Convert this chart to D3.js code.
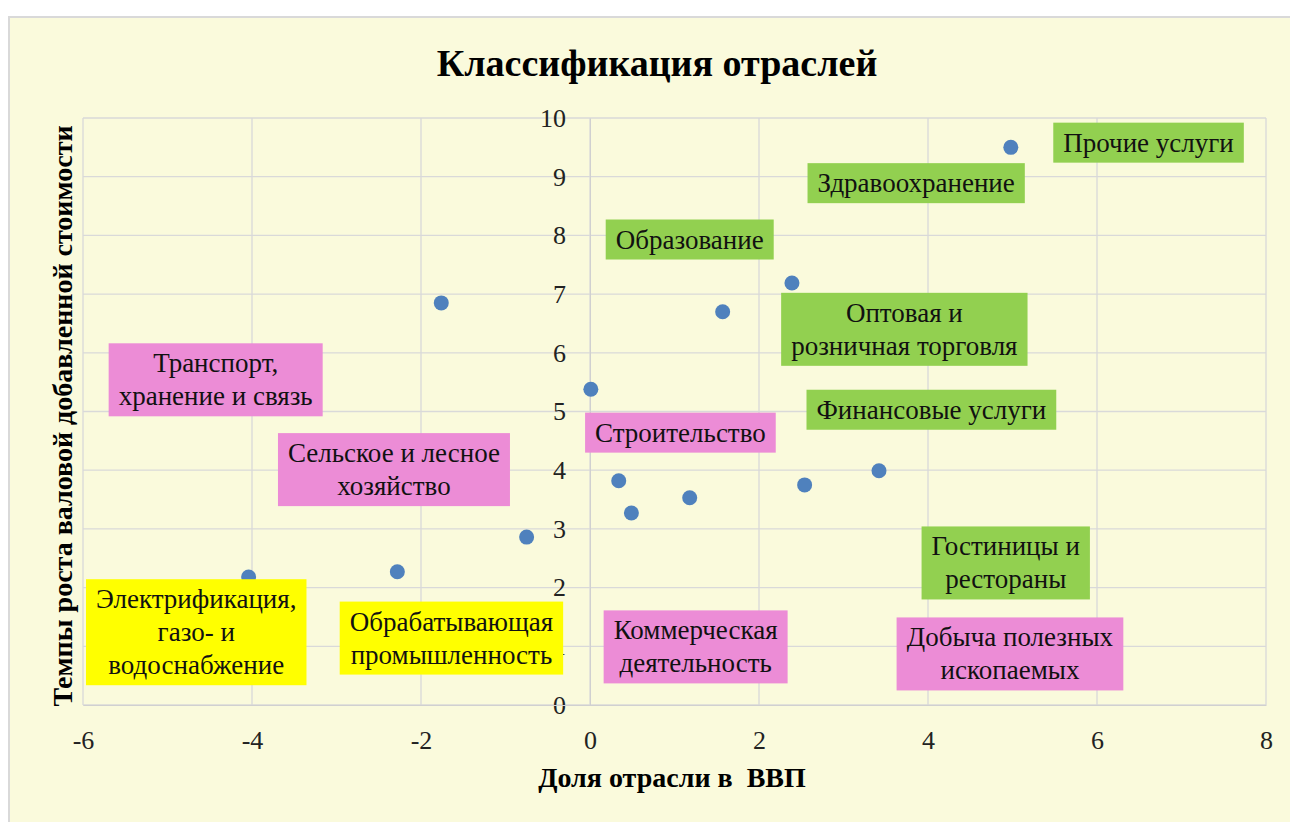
<!DOCTYPE html>
<html>
<head>
<meta charset="utf-8">
<script src="https://cdn.jsdelivr.net/npm/d3@7"></script>
<style>
  body { margin: 0; background: #fff; }
  text { font-family: "Liberation Serif", "Times New Roman", serif; }
</style>
</head>
<body>
<svg id="chart" width="1290" height="822"></svg>
<script>
// industries (order matches points)
var industries = ["Прочие услуги", "Здравоохранение", "Образование", "Оптовая и розничная торговля",
  "Финансовые услуги", "Гостиницы и рестораны", "Добыча полезных ископаемых", "Коммерческая деятельность",
  "Строительство", "Транспорт, хранение и связь", "Сельское и лесное хозяйство",
  "Электрификация, газо- и водоснабжение", "Обрабатывающая промышленность"];
// share in GDP (x) and growth rate (y)
var gdpShare = [4.98, 2.39, 1.57, 3.42, 2.54, 1.18, 0.49, 0.34, 0.01, -1.76, -0.75, -4.04, -2.28];
var growth = [9.50, 7.19, 6.70, 3.99, 3.75, 3.53, 3.27, 3.82, 5.38, 6.85, 2.86, 2.18, 2.27];

// label text lines and groups
var labelLines = [["Прочие услуги"], ["Здравоохранение"], ["Образование"], ["Оптовая и", "розничная торговля"],
  ["Финансовые услуги"], ["Гостиницы и", "рестораны"], ["Добыча полезных", "ископаемых"], ["Коммерческая", "деятельность"],
  ["Строительство"], ["Транспорт,", "хранение и связь"], ["Сельское и лесное", "хозяйство"],
  ["Электрификация,", "газо- и", "водоснабжение"], ["Обрабатывающая", "промышленность"]];
var labelGroup = ["g", "g", "g", "g", "g", "g", "p", "p", "p", "p", "p", "y", "y"];
// label centers in data units (labels were dragged away from points)
var labelX = [6.61, 3.86, 1.18, 3.72, 4.04, 4.92, 4.97, 1.25, 1.07, -4.43, -2.32, -4.66, -1.64];
var labelY = [9.58, 8.89, 7.93, 6.40, 5.03, 2.42, 0.87, 0.99, 4.64, 5.54, 4.01, 1.24, 1.14];

var xTicks = [-6, -4, -2, 0, 2, 4, 6, 8];
var yTicks = [0, 1, 2, 3, 4, 5, 6, 7, 8, 9, 10];

var groupColor = { g: "#92d050", p: "#ec8cd6", y: "#ffff00" };

var svg = d3.select("#chart");

// chart frame
svg.append("rect")
  .attr("x", 9).attr("y", 17).attr("width", 1300).attr("height", 820)
  .attr("fill", "#fafadc").attr("stroke", "#d9d9d9").attr("stroke-width", 2);

var x = d3.scaleLinear().domain([-6, 8]).range([83, 1266]);
var y = d3.scaleLinear().domain([0, 10]).range([705, 118]);

// gridlines
svg.append("g").selectAll("line.v").data(xTicks).enter().append("line")
  .attr("x1", function(d){ return x(d); }).attr("x2", function(d){ return x(d); })
  .attr("y1", y(0)).attr("y2", y(10))
  .attr("stroke", "#d9d9d9").attr("stroke-width", 1.3);
svg.append("g").selectAll("line.h").data(yTicks).enter().append("line")
  .attr("x1", x(-6)).attr("x2", x(8))
  .attr("y1", function(d){ return y(d); }).attr("y2", function(d){ return y(d); })
  .attr("stroke", "#d9d9d9").attr("stroke-width", 1.3);

var fmt = function(d){ return String(d); };

// y axis crosses at x = 0
var yAxis = svg.append("g")
  .attr("transform", "translate(" + x(0) + ",0)")
  .call(d3.axisLeft(y).tickValues(yTicks).tickFormat(fmt).tickSize(0).tickPadding(24));
yAxis.select(".domain").attr("stroke", "#d0d0d0");
yAxis.selectAll("text").attr("font-size", 26).attr("fill", "#222")
  .attr("font-family", "Liberation Serif");

var xAxis = svg.append("g")
  .attr("transform", "translate(0," + y(0) + ")")
  .call(d3.axisBottom(x).tickValues(xTicks).tickFormat(fmt).tickSize(0).tickPadding(26));
xAxis.select(".domain").attr("stroke", "#d0d0d0");
xAxis.selectAll("text").attr("font-size", 26).attr("fill", "#222")
  .attr("font-family", "Liberation Serif");

// points
var pts = d3.range(gdpShare.length);
svg.append("g").selectAll("circle").data(pts).enter().append("circle")
  .attr("cx", function(i){ return x(gdpShare[i]); })
  .attr("cy", function(i){ return y(growth[i]); })
  .attr("r", 7.5)
  .attr("fill", "#4f81bd");

// labels
var lh = 33;
var labels = svg.append("g").selectAll("g").data(pts).enter().append("g")
  .attr("transform", function(i){ return "translate(" + x(labelX[i]) + "," + y(labelY[i]) + ")"; });
labels.each(function(i){
  var g = d3.select(this);
  var rect = g.append("rect").attr("fill", groupColor[labelGroup[i]]);
  var n = labelLines[i].length;
  var t = g.append("text").attr("text-anchor", "middle").attr("font-size", 27).attr("fill", "#111");
  labelLines[i].forEach(function(s, k){
    t.append("tspan").attr("x", 0).attr("y", (k - (n - 1) / 2) * lh + 9).text(s);
  });
  var w = t.node().getBBox().width + 20;
  var h = n * lh + 7;
  rect.attr("x", -w / 2).attr("y", -h / 2).attr("width", w).attr("height", h);
});

// titles
svg.append("text").attr("x", 657).attr("y", 76).attr("text-anchor", "middle")
  .attr("font-size", 38).attr("font-weight", "bold").text("Классификация отраслей");
svg.append("text").attr("x", 672).attr("y", 787).attr("text-anchor", "middle")
  .attr("font-size", 28).attr("font-weight", "bold").attr("xml:space", "preserve").text("Доля отрасли в  ВВП");
svg.append("text").attr("transform", "translate(72,416) rotate(-90)").attr("text-anchor", "middle")
  .attr("font-size", 28).attr("font-weight", "bold").text("Темпы роста валовой добавленной стоимости");
</script>
</body>
</html>
